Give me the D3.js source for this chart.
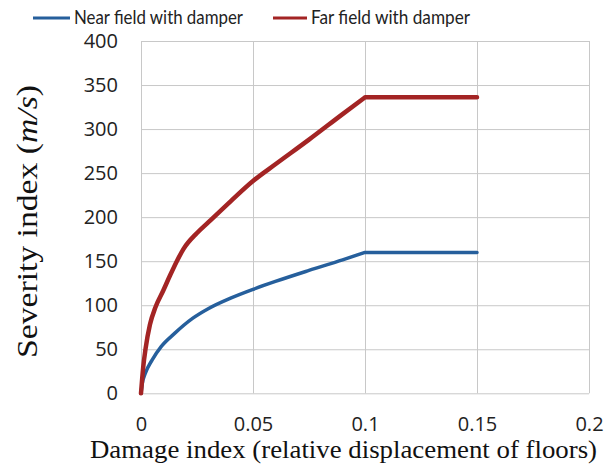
<!DOCTYPE html>
<html>
<head>
<meta charset="utf-8">
<script src="https://cdn.jsdelivr.net/npm/d3@7"></script>
<style>
  body { margin: 0; background: #fff; }
  .grid line { stroke: #c8c8c8; stroke-width: 1; }
  .grid .domain { display: none; }
  .grid text { font-family: "Open Sans", sans-serif; font-size: 20px; fill: #222; }
</style>
</head>
<body>
<div id="chart"></div>
<script>
var width = 616, height = 464;

// damage index values (x) and severity index (y)
var nearX = [0, 0.0005, 0.002, 0.005, 0.009, 0.015, 0.023, 0.03, 0.04, 0.05, 0.06, 0.075, 0.09, 0.1, 0.15];
var nearY = [0, 10, 23, 38, 53, 68, 85, 96, 108, 118, 127, 139.5, 151.5, 160, 160];

var farX = [0, 0.001, 0.002, 0.004, 0.0065, 0.01, 0.013, 0.016, 0.019, 0.025, 0.03, 0.04, 0.05, 0.06, 0.075, 0.09, 0.1, 0.15];
var farY = [0, 30, 50, 78, 98, 117, 134, 150, 164, 182, 194, 218, 241, 260, 288, 317, 336, 336];

var xTicks = [0, 0.05, 0.1, 0.15, 0.2];
var xTickLabels = ["0", "0.05", "0.1", "0.15", "0.2"];
var yTicks = [0, 50, 100, 150, 200, 250, 300, 350, 400];

var seriesNames = ["Near field with damper", "Far field with damper"];
var seriesColors = ["#265f9c", "#a32424"];

var x = d3.scaleLinear().domain([0, 0.2]).range([141, 589]);
var y = d3.scaleLinear().domain([0, 400]).range([393.3, 41]);

var svg = d3.select("#chart").append("svg")
    .attr("width", width)
    .attr("height", height);

// horizontal gridlines + y labels
svg.append("g")
    .attr("class", "grid")
    .attr("transform", "translate(" + x(0) + ",0)")
    .call(d3.axisLeft(y).tickValues(yTicks).tickSize(-(x(0.2) - x(0))).tickPadding(23));

// vertical gridlines + x labels
svg.append("g")
    .attr("class", "grid")
    .attr("transform", "translate(0," + y(0) + ")")
    .call(d3.axisBottom(x).tickValues(xTicks)
        .tickFormat(function(d, i) { return xTickLabels[i]; })
        .tickSize(-(y(0) - y(400))).tickPadding(24));

// smooth part up to 0.1, then straight plateau
var curve = d3.line()
    .x(function(d) { return x(d[0]); })
    .y(function(d) { return y(d[1]); })
    .curve(d3.curveMonotoneX);
var straight = d3.line()
    .x(function(d) { return x(d[0]); })
    .y(function(d) { return y(d[1]); });

function drawSeries(xs, ys, color, w) {
    var data = xs.map(function(v, i) { return [v, ys[i]]; });
    var k = data.length - 1;
    var path = curve(data.slice(0, k)) + straight(data.slice(k - 1)).replace("M", "L");
    svg.append("path")
        .attr("fill", "none")
        .attr("stroke", color)
        .attr("stroke-width", w)
        .attr("stroke-linecap", "round")
        .attr("stroke-linejoin", "round")
        .attr("d", path);
}

drawSeries(nearX, nearY, seriesColors[0], 3.5);
drawSeries(farX, farY, seriesColors[1], 4.5);

// legend
var legendX = [33, 273];
var legendLen = [37, 34];
var legendTextW = [169, 159];
seriesNames.forEach(function(name, i) {
    svg.append("line")
        .attr("x1", legendX[i]).attr("x2", legendX[i] + legendLen[i])
        .attr("y1", 18).attr("y2", 18)
        .attr("stroke", seriesColors[i])
        .attr("stroke-width", 3);
    svg.append("text")
        .attr("x", legendX[i] + legendLen[i] + 4)
        .attr("y", 24)
        .attr("font-family", "Lato, sans-serif")
        .attr("font-size", 19)
        .attr("fill", "#222")
        .attr("textLength", legendTextW[i])
        .attr("lengthAdjust", "spacingAndGlyphs")
        .text(name);
});

// axis titles
svg.append("text")
    .attr("x", 90)
    .attr("y", 458)
    .attr("font-family", "Liberation Serif, serif")
    .attr("font-size", 25)
    .attr("fill", "#111")
    .attr("textLength", 507)
    .attr("lengthAdjust", "spacingAndGlyphs")
    .text("Damage index (relative displacement of floors)");

var yt = svg.append("text")
    .attr("transform", "translate(37,358) rotate(-90)")
    .attr("font-family", "Liberation Serif, serif")
    .attr("font-size", 29)
    .attr("fill", "#111")
    .attr("textLength", 273)
    .attr("lengthAdjust", "spacingAndGlyphs");
yt.append("tspan").text("Severity index (");
yt.append("tspan").attr("font-style", "italic").text("m/s");
yt.append("tspan").text(")");
</script>
</body>
</html>
